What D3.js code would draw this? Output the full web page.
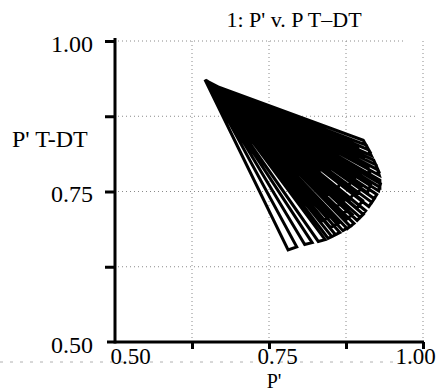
<!DOCTYPE html>
<html><head><meta charset="utf-8">
<script src="https://cdn.jsdelivr.net/npm/d3@7"></script>
<style>
body{margin:0;background:#fff}
svg{display:block}
text{font-family:"Liberation Serif","Times New Roman",serif;fill:#000}
</style></head><body>
<script>
// Trajectory: P' (x) vs P' T-DT (y)
const pPrime = [
  0.646,0.781,0.795, 0.650,0.808,0.820, 0.648,0.830,0.841, 0.652,0.852,0.865,
  0.647,0.877,0.888, 0.651,0.898,0.907, 0.649,0.917,0.925, 0.653,0.930,0.930,
  0.650,0.927,0.920, 0.654,0.912,0.903, 0.656,0.850,0.862, 0.652,0.875,0.885,
  0.657,0.893,0.902, 0.653,0.910,0.915, 0.658,0.915,0.910, 0.654,0.902,0.894,
  0.659,0.835,0.845, 0.660,0.870,0.880, 0.656,0.893,0.900, 0.661,0.900,0.897,
  0.657,0.890,0.880, 0.662,0.860,0.872, 0.658,0.880,0.885, 0.663,0.872,0.862,
  0.660,0.845,0.852, 0.656,0.850,0.840,
  0.655,0.870,0.882, 0.659,0.893,0.903, 0.654,0.912,0.921, 0.658,0.928,0.931,
  0.653,0.929,0.924, 0.657,0.916,0.908, 0.661,0.858,0.846, 0.656,0.880,0.888,
  0.660,0.890,0.888, 0.655,0.875,0.868, 0.659,0.860,0.865, 0.654,0.880,0.870,
  0.658,0.840,0.830, 0.655
];
const pTDT = [
  0.936,0.653,0.658, 0.932,0.662,0.665, 0.934,0.667,0.670, 0.931,0.675,0.682,
  0.935,0.688,0.697, 0.932,0.707,0.718, 0.934,0.732,0.745, 0.930,0.757,0.769,
  0.933,0.786,0.802, 0.929,0.819,0.835, 0.928,0.690,0.697, 0.931,0.703,0.712,
  0.927,0.722,0.735, 0.930,0.748,0.762, 0.926,0.776,0.792, 0.929,0.808,0.822,
  0.925,0.700,0.706, 0.924,0.712,0.722, 0.928,0.745,0.758, 0.923,0.772,0.788,
  0.927,0.800,0.812, 0.922,0.725,0.735, 0.926,0.760,0.775, 0.921,0.790,0.803,
  0.924,0.745,0.760, 0.928,0.785,0.800,
  0.929,0.685,0.692, 0.926,0.702,0.712, 0.930,0.725,0.738, 0.927,0.751,0.763,
  0.931,0.777,0.794, 0.927,0.810,0.827, 0.923,0.678,0.672, 0.928,0.735,0.748,
  0.924,0.765,0.780, 0.929,0.775,0.790, 0.925,0.750,0.765, 0.930,0.815,0.826,
  0.926,0.770,0.785, 0.929
];
const xTicks = [0.5, 0.625, 0.75, 0.875, 1.0];
const yTicks = [0.5, 0.625, 0.75, 0.875, 1.0];
const xTickLabels = ["0.50", "", "0.75", "", "1.00"];
const yTickLabels = ["0.50", "", "0.75", "", "1.00"];
const titleText = "1: P' v. P T\u2013DT";
const xTitle = "P'";
const yTitle = "P' T-DT";

const W = 443, H = 392;
const svg = d3.select("body").append("svg").attr("width", W).attr("height", H);

const x = d3.scaleLinear().domain([0.5, 1.0]).range([115, 423]);
const y = d3.scaleLinear().domain([0.5, 1.0]).range([342, 41]);

// grid (dotted, faint)
const grid = svg.append("g").attr("stroke", "#8a8a8a").attr("stroke-width", 1)
  .attr("stroke-dasharray", "1,3").attr("fill", "none");
grid.selectAll("line.h").data(yTicks.filter(d => d > 0.5)).join("line")
  .attr("x1", x(0.5) + 3).attr("x2", d => d === 1.0 ? x(0.97) : x(0.99))
  .attr("y1", d => y(d)).attr("y2", d => y(d));
grid.selectAll("line.v").data(xTicks.filter(d => d > 0.5)).join("line")
  .attr("x1", d => x(d)).attr("x2", d => x(d))
  .attr("y1", y(1.0)).attr("y2", y(0.5));

// scan artifact dotted line under labels
svg.append("line").attr("x1", 0).attr("x2", 430).attr("y1", 362).attr("y2", 362)
  .attr("stroke", "#b0b0b0").attr("stroke-dasharray", "3,7");

// trajectory
const pts = pPrime.map((v, i) => [v, pTDT[i]]);
svg.append("path").datum(pts)
  .attr("d", d3.line().x(d => x(d[0])).y(d => y(d[1])))
  .attr("fill", "none").attr("stroke", "#000").attr("stroke-width", 3)
  .attr("stroke-linejoin", "miter");

// axes
const xAxis = d3.axisBottom(x).tickValues(xTicks).tickSize(7).tickSizeOuter(0)
  .tickPadding(0).tickFormat((d, i) => xTickLabels[i]);
const gx = svg.append("g").attr("transform", `translate(0,${y(0.5)})`).call(xAxis);
gx.select(".domain").remove();
gx.selectAll(".tick line").attr("stroke", "#000").attr("stroke-width", 3);
gx.selectAll(".tick text").attr("font-size", 23).attr("font-family", "Liberation Serif")
  .attr("dy", "0.66em")
  .attr("dx", d => d === 0.5 ? 15 : d === 0.75 ? 8 : d === 1.0 ? -8 : 0);
gx.selectAll(".tick").filter(d => d === 0.5).select("line").remove();

const yAxis = d3.axisLeft(y).tickValues(yTicks).tickSize(10).tickSizeOuter(0)
  .tickPadding(12).tickFormat((d, i) => yTickLabels[i]);
const gy = svg.append("g").attr("transform", `translate(${x(0.5)},0)`).call(yAxis);
gy.select(".domain").remove();
gy.selectAll(".tick line").attr("stroke", "#000").attr("stroke-width", 3);
gy.selectAll(".tick text").attr("font-size", 24).attr("font-family", "Liberation Serif")
  .attr("dy", "0.42em");
gy.selectAll(".tick").filter(d => d === 0.5).select("line").remove();

// axis lines
svg.append("line").attr("x1", x(0.5)).attr("x2", x(0.5))
  .attr("y1", y(1.0) - 3).attr("y2", y(0.5) + 1.5)
  .attr("stroke", "#000").attr("stroke-width", 3);
svg.append("line").attr("x1", x(0.5) - 8).attr("x2", x(1.0) + 1)
  .attr("y1", y(0.5)).attr("y2", y(0.5))
  .attr("stroke", "#000").attr("stroke-width", 3);

// titles
svg.append("text").attr("x", 294).attr("y", 27).attr("text-anchor", "middle")
  .attr("font-size", 22).text(titleText);
svg.append("text").attr("x", 12).attr("y", 147).attr("font-size", 24).text(yTitle);
svg.append("text").attr("x", 274).attr("y", 387.5).attr("text-anchor", "middle")
  .attr("font-size", 20).text(xTitle);
</script>
</body></html>
